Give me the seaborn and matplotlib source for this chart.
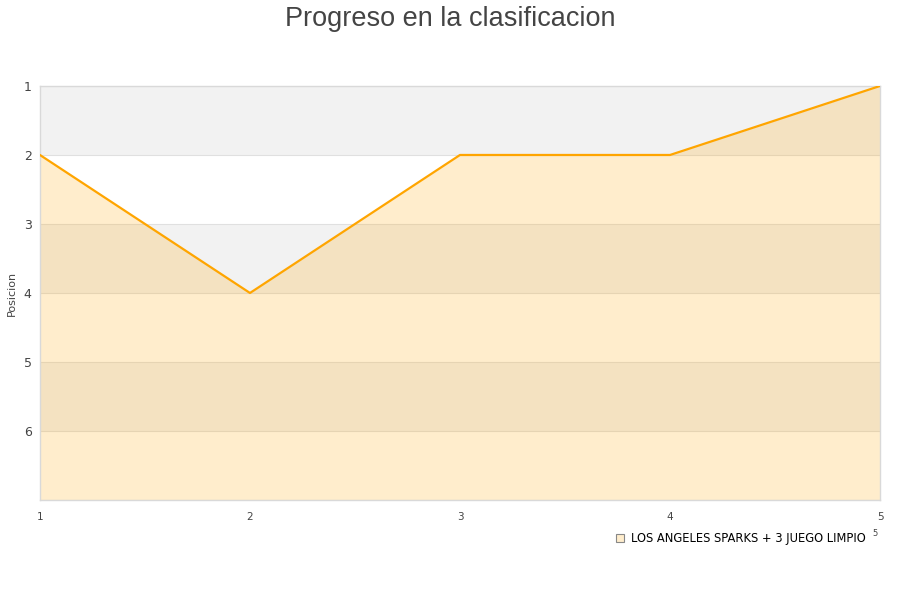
import numpy as np
import pandas as pd
import matplotlib
matplotlib.use("Agg")
import matplotlib.pyplot as plt
import seaborn as sns
from matplotlib.lines import Line2D

jornadas = [1, 2, 3, 4, 5]
posiciones = [2, 4, 2, 2, 1]
equipo = "LOS ANGELES SPARKS + 3 JUEGO LIMPIO"
titulo = "Progreso en la clasificacion"
ytick_vals = [1, 2, 3, 4, 5, 6]

df = pd.DataFrame({"jornada": jornadas, "posicion": posiciones})

sns.set_style("white")
plt.rcParams['font.family'] = ['DejaVu Sans']

fig = plt.figure(figsize=(9, 6), dpi=100)
ax = fig.add_axes([0.0444, 0.1667, 0.9334, 0.69])

# alternating bands
for k in range(1, 7, 2):
    ax.axhspan(k, k + 1, color="#f2f2f2", lw=0, zorder=0)
for k in range(1, 8):
    ax.axhline(k, color="#e0e0e0", lw=0.8, zorder=1)

ax.fill_between(df["jornada"], df["posicion"], 7, color="#ffa500", alpha=0.2, lw=0, zorder=2)
sns.lineplot(data=df, x="jornada", y="posicion", color="#ffa500", lw=1.6, ax=ax, zorder=3)

ax.set_xlim(1, 5)
ax.set_ylim(7, 1)
ax.set_yticks(ytick_vals)
ax.set_xticks(jornadas)
ax.tick_params(axis="y", labelsize=9, colors="#444444", length=0, pad=6)
ax.tick_params(axis="x", labelsize=7.5, colors="#444444", length=0, pad=9)
ax.set_xlabel("")
ax.set_ylabel("Posicion", fontsize=8, color="#444444")
ax.yaxis.set_label_coords(-0.027, 0.5)
for s in ax.spines.values():
    s.set_color("#d9d9d9")
    s.set_linewidth(1)

fig.text(0.5, 0.99, titulo, ha="center", va="top", fontsize=19.5, color="#444444",
         family=["Liberation Sans", "DejaVu Sans"])
fig.text(0.9722, 0.11, "5", ha="center", va="center", fontsize=6, color="#444444")

handle = Line2D([], [], marker="s", linestyle="none", markersize=6,
                markerfacecolor="#ffedcc", markeredgecolor="#888888", markeredgewidth=0.8)
fig.legend([handle], [equipo], loc="center right", bbox_to_anchor=(0.974, 0.103),
           frameon=False, fontsize=8.3, handletextpad=0.5, handlelength=1,
           labelcolor="black")

fig.savefig("out.png", dpi=100)
